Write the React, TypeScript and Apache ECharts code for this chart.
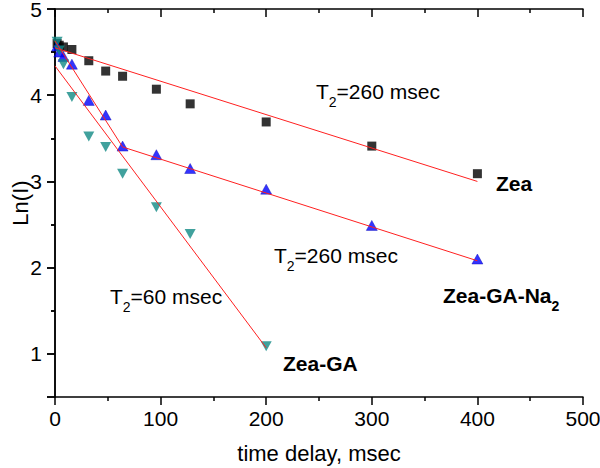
import { useEffect, useRef } from 'react';
import * as echarts from 'echarts';

// ---- data (time delay in msec, Ln(I)) ----
const zeaTime = [2, 4, 8, 16, 32, 48, 64, 96, 128, 200, 300, 400];
const zeaLn = [4.6, 4.58, 4.56, 4.53, 4.4, 4.28, 4.22, 4.07, 3.9, 3.69, 3.41, 3.09];

const na2Time = [2, 4, 8, 16, 32, 48, 64, 96, 128, 200, 300, 400];
const na2Ln = [4.57, 4.5, 4.45, 4.36, 3.94, 3.77, 3.41, 3.31, 3.15, 2.91, 2.49, 2.1];

const gaTime = [2, 4, 8, 16, 32, 48, 64, 96, 128, 200];
const gaLn = [4.62, 4.52, 4.36, 3.98, 3.52, 3.4, 3.09, 2.7, 2.39, 1.09];

// fitted lines
const zeaFitTime = [0, 400];
const zeaFitLn = [4.55, 3.0];
const na2FitTime = [0, 64, 400];
const na2FitLn = [4.63, 3.4, 2.08];
const gaFitTime = [0, 200];
const gaFitLn = [4.34, 1.07];

const xMin = 0;
const xMax = 500;
const xStep = 100;
const yMin = 0.5;
const yMax = 5;

const FONT = '"Liberation Sans", Arial, Helvetica, sans-serif';

const pairs = (xs: number[], ys: number[]) => xs.map((x, i) => [x, ys[i]]);

export default function App() {
  const ref = useRef<HTMLDivElement>(null);

  useEffect(() => {
    if (!ref.current) return;
    const chart = echarts.init(ref.current, undefined, { renderer: 'svg' });

    const axisLine = { show: true, lineStyle: { color: '#000', width: 1.5 } };
    const tickStyle = { color: '#000', width: 1.5 };

    const subRich = (fs: number, bold: boolean) => ({
      a: { fontSize: fs, fontFamily: FONT, fontWeight: bold ? 'bold' : 'normal', color: '#000', lineHeight: 24, verticalAlign: 'top' },
      b: { fontSize: 14, fontFamily: FONT, fontWeight: bold ? 'bold' : 'normal', color: '#000', lineHeight: 14, padding: [14, 0, 0, 0], verticalAlign: 'top' },
    });

    const label = (x: number, y: number, text: string, bold: boolean) => ({
      type: 'text',
      x,
      y,
      style: {
        text,
        rich: subRich(21, bold),
        align: 'left',
        verticalAlign: 'top',
      },
    });

    chart.setOption({
      animation: false,
      backgroundColor: '#fff',
      grid: { left: 55, right: 17, top: 9, bottom: 71, containLabel: false, outerBoundsMode: 'none' },
      xAxis: [
        {
          type: 'value',
          position: 'bottom',
          min: xMin,
          max: xMax,
          interval: xStep,
          axisLine,
          axisTick: { show: true, inside: false, length: 8, lineStyle: tickStyle },
          minorTick: { show: true, splitNumber: 2, length: 4, lineStyle: tickStyle },
          splitLine: { show: false },
          axisLabel: { color: '#000', fontSize: 21, fontFamily: FONT, margin: 11 },
          name: 'time delay, msec',
          nameLocation: 'middle',
          nameGap: 45,
          nameMoveOverlap: false,
          nameTextStyle: { color: '#000', fontSize: 22, fontFamily: FONT },
        },
        {
          type: 'value',
          position: 'top',
          min: xMin,
          max: xMax,
          interval: xStep,
          axisLine,
          axisTick: { show: true, inside: true, length: 8, lineStyle: tickStyle },
          minorTick: { show: true, splitNumber: 2, length: 4, lineStyle: tickStyle },
          splitLine: { show: false },
          axisLabel: { show: false },
        },
      ],
      yAxis: [
        {
          type: 'value',
          position: 'left',
          min: yMin,
          max: yMax,
          splitNumber: 5,
          axisLine,
          axisTick: { show: true, inside: false, length: 8, lineStyle: tickStyle },
          minorTick: { show: true, splitNumber: 2, length: 4, lineStyle: tickStyle },
          splitLine: { show: false },
          axisLabel: {
            color: '#000',
            fontSize: 21,
            lineHeight: 16,
            fontFamily: FONT,
            margin: 13,
            formatter: (v: number) => (Number.isInteger(v) ? String(v) : ''),
          },
          name: 'Ln(I)',
          nameLocation: 'middle',
          nameGap: 24,
          nameMoveOverlap: false,
          nameTextStyle: { color: '#000', fontSize: 22, fontFamily: FONT },
        },
        {
          type: 'value',
          position: 'right',
          min: yMin,
          max: yMax,
          splitNumber: 5,
          axisLine,
          axisTick: { show: true, inside: true, length: 8, lineStyle: tickStyle },
          minorTick: { show: true, splitNumber: 2, length: 4, lineStyle: tickStyle },
          splitLine: { show: false },
          axisLabel: { show: false },
        },
      ],
      series: [
        {
          name: 'Zea',
          type: 'scatter',
          data: pairs(zeaTime, zeaLn),
          symbol: 'rect',
          symbolSize: 9,
          itemStyle: { color: '#000' },
        },
        {
          name: 'Zea-GA-Na2',
          type: 'scatter',
          data: pairs(na2Time, na2Ln),
          symbol: 'triangle',
          symbolSize: [11, 10],
          itemStyle: { color: '#0000ff', borderColor: '#0000b0', borderWidth: 0.5 },
        },
        {
          name: 'Zea-GA',
          type: 'scatter',
          data: pairs(gaTime, gaLn),
          symbol: 'triangle',
          symbolRotate: 180,
          symbolSize: [11, 10],
          itemStyle: { color: '#128a84' },
        },
        {
          type: 'line',
          data: pairs(zeaFitTime, zeaFitLn),
          symbol: 'none',
          lineStyle: { color: '#ff2020', width: 1 },
          z: 3,
        },
        {
          type: 'line',
          data: pairs(na2FitTime, na2FitLn),
          symbol: 'none',
          lineStyle: { color: '#ff2020', width: 1 },
          z: 3,
        },
        {
          type: 'line',
          data: pairs(gaFitTime, gaFitLn),
          symbol: 'none',
          lineStyle: { color: '#ff2020', width: 1 },
          z: 3,
        },
      ],
      graphic: [
        label(316, 81, '{a|T}{b|2}{a|=260 msec}', false),
        label(274, 245, '{a|T}{b|2}{a|=260 msec}', false),
        label(110, 286, '{a|T}{b|2}{a|=60 msec}', false),
        label(496, 173, '{a|Zea}', true),
        label(443, 285, '{a|Zea-GA-Na}{b|2}', true),
        label(283, 353, '{a|Zea-GA}', true),
      ],
    });

    return () => chart.dispose();
  }, []);

  return <div ref={ref} style={{ width: 600, height: 468, position: 'absolute', left: 0, top: 0 }} />;
}
